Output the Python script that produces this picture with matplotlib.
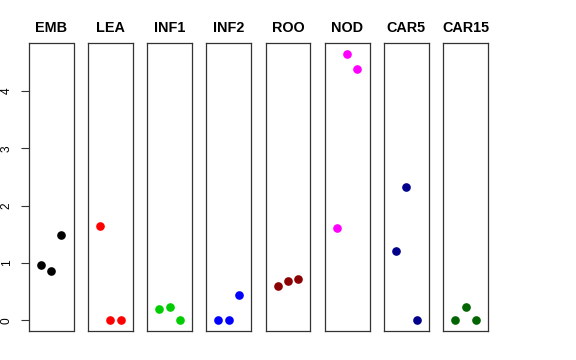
import matplotlib.pyplot as plt

plt.rcParams["font.family"] = ["Liberation Sans", "DejaVu Sans"]

# tissue panels, three samples each
tissues = ["EMB", "LEA", "INF1", "INF2", "ROO", "NOD", "CAR5", "CAR15"]
colors = ["black", "red", "#00CD00", "blue", "#8B0000", "magenta", "#00008B", "#006400"]
emb = [0.96, 0.86, 1.49]
lea = [1.65, 0.0, 0.0]
inf1 = [0.20, 0.23, 0.0]
inf2 = [0.0, 0.0, 0.45]
roo = [0.60, 0.69, 0.72]
nod = [1.61, 4.65, 4.39]
car5 = [1.21, 2.33, 0.0]
car15 = [0.0, 0.23, 0.0]
values = [emb, lea, inf1, inf2, roo, nod, car5, car15]
samples = [1, 2, 3]
yticks = [0, 1, 2, 3, 4]

W, H = 576, 360
fig = plt.figure(figsize=(W / 100, H / 100), dpi=100)

left0, step, pw = 28.7, 59.2, 44.8
top, bottom = 43, 331
ymax = max(max(v) for v in values)
ylim = (0 - 0.04 * ymax, ymax * 1.04)

for i, (name, vals, col) in enumerate(zip(tissues, values, colors)):
    x0 = left0 + i * step
    ax = fig.add_axes([x0 / W, 1 - bottom / H, pw / W, (bottom - top) / H])
    ax.plot(samples, vals, "o", color=col, markersize=5.2, linestyle="none")
    ax.set_xlim(-0.16, 4.16)
    ax.set_ylim(*ylim)
    ax.set_xticks([])
    for s in ax.spines.values():
        s.set_linewidth(0.9)
        s.set_color("#333333")
    ax.set_title(name, fontsize=10.4, fontweight="bold", pad=8)
    if i == 0:
        ax.set_yticks(yticks)
        ax.tick_params(axis="y", length=5.5, width=0.8, labelsize=8.6, pad=6, color="#333333")
        for lab in ax.get_yticklabels():
            lab.set_rotation(90)
            lab.set_va("center")
    else:
        ax.set_yticks([])

fig.savefig("out.png", dpi=100)
